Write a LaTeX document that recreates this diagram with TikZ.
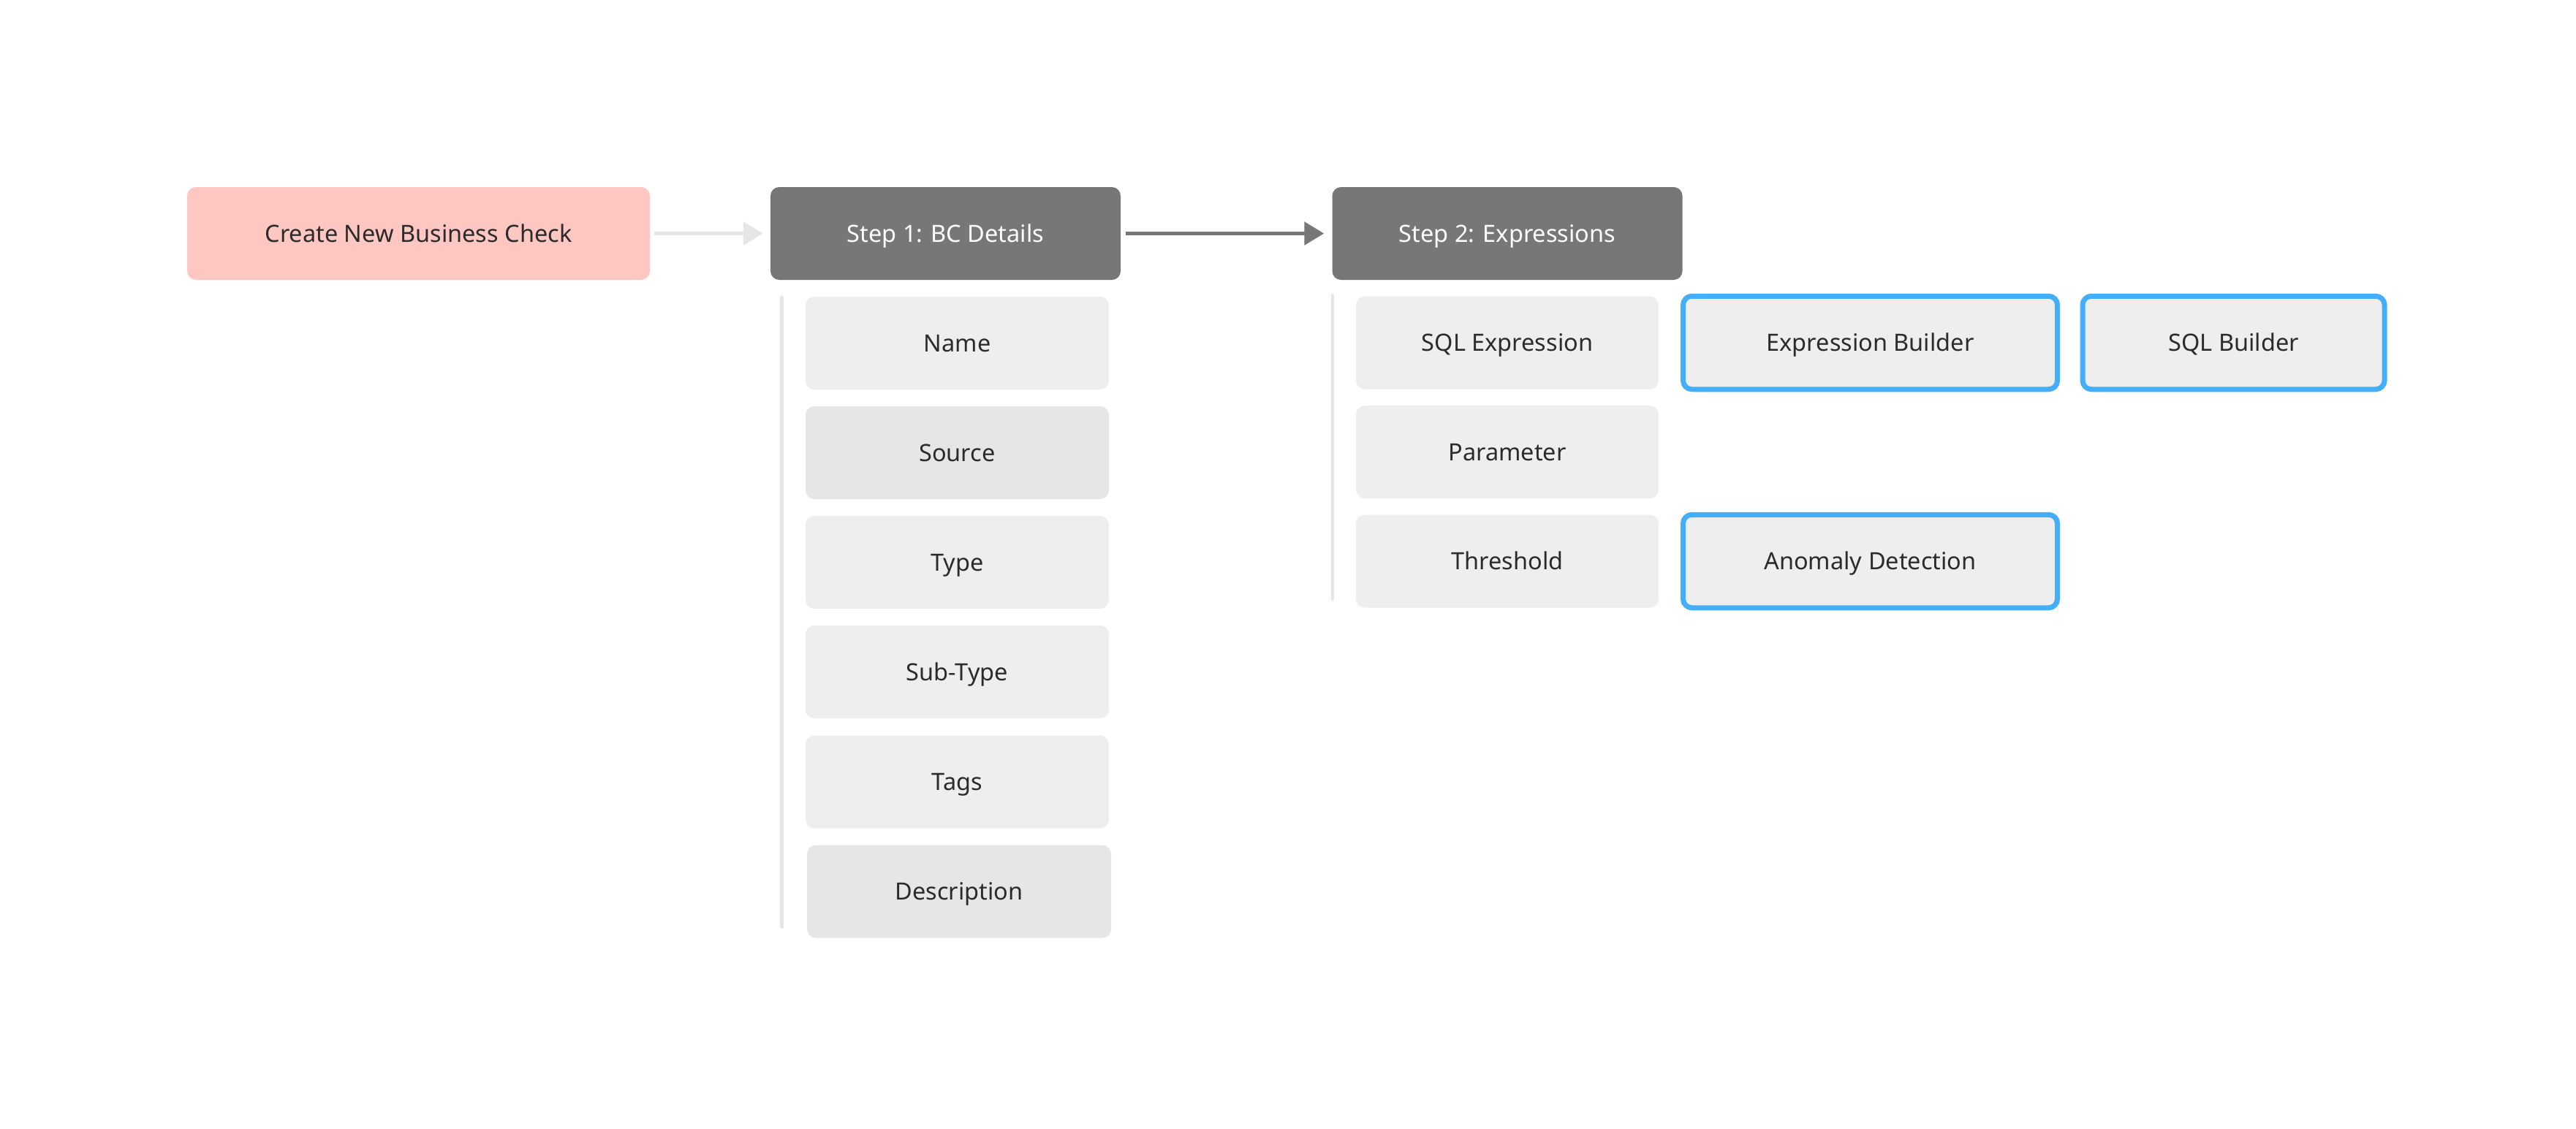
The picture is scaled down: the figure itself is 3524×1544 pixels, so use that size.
\documentclass[tikz,border=0pt]{standalone}
\usepackage{fontspec}
\setmainfont{Noto Sans}
\usetikzlibrary{arrows.meta}
\definecolor{pinkfill}{HTML}{FFC7C2}
\definecolor{darkfill}{HTML}{777777}
\definecolor{itemfill}{HTML}{EEEEEE}
\definecolor{itemfillb}{HTML}{E6E6E6}
\definecolor{bluebord}{HTML}{45AEFA}
\definecolor{txt}{HTML}{2B2B2B}
\definecolor{lightarrow}{HTML}{E6E6E6}
\definecolor{barcol}{HTML}{E6E6E6}
\tikzset{
  box/.style={rounded corners=12pt, inner sep=0pt, minimum height=127pt, text=txt,
    font=\fontsize{32.5}{38}\selectfont, text height=23.2pt, text depth=0pt, anchor=center},
  startbox/.style={box, fill=pinkfill, minimum width=633pt},
  stepbox/.style={box, fill=darkfill, minimum width=479pt, text=white},
  itembox/.style={box, fill=itemfill, minimum width=415pt},
  itemboxb/.style={box, fill=itemfillb, minimum width=415pt},
  toolbox/.style={box, fill=itemfill, draw=bluebord, line width=7pt},
  sidebar/.style={barcol, line width=5pt, line cap=round},
  flowarrow/.style={line width=5.5pt, -{Triangle[length=27pt,width=31pt]}},
}
\begin{document}
\begin{tikzpicture}[x=1pt,y=-1pt]
\useasboundingbox[fill=white] (0,0) rectangle (3524,1544);
% top row
\node[startbox] (create) at (572.5,319.5) {Create New Business Check};
\node[stepbox] (step1) at (1293.5,319.5) {Step 1: BC Details};
\node[stepbox] (step2) at (2062,319.5) {Step 2: Expressions};
\draw[flowarrow, lightarrow, shorten <=6pt, shorten >=10pt] (create) -- (step1);
\draw[flowarrow, darkfill, shorten <=7pt, shorten >=11pt] (step1) -- (step2);
% step 1 items
\draw[sidebar] (1069.5,407) -- (1069.5,1268);
\node[itembox] (name) at (1309.5,469.5) {Name};
\node[itemboxb] (source) at (1309.5,619.5) {Source};
\node[itembox] (type) at (1309.5,769.5) {Type};
\node[itembox] (subtype) at (1309.5,919.5) {Sub-Type};
\node[itembox] (tags) at (1309.5,1070) {Tags};
\node[itemboxb, minimum width=416pt] (desc) at (1312,1220) {Description};
% step 2 items
\draw[sidebar, line width=4pt] (1822.5,404) -- (1822.5,820);
\node[itembox, minimum width=414pt] (sqlexpr) at (2062,469) {SQL Expression};
\node[itembox, minimum width=414pt] (param) at (2062,618.5) {Parameter};
\node[itembox, minimum width=414pt] (thresh) at (2062,768) {Threshold};
\node[toolbox, minimum width=512pt, minimum height=127.5pt] (exprb) at (2558.5,469) {Expression Builder};
\node[toolbox, minimum width=413pt, minimum height=127.5pt] (sqlb) at (3055.5,469) {SQL Builder};
\node[toolbox, minimum width=512pt, minimum height=127.5pt] (anomaly) at (2558.5,768) {Anomaly Detection};
\end{tikzpicture}
\end{document}
